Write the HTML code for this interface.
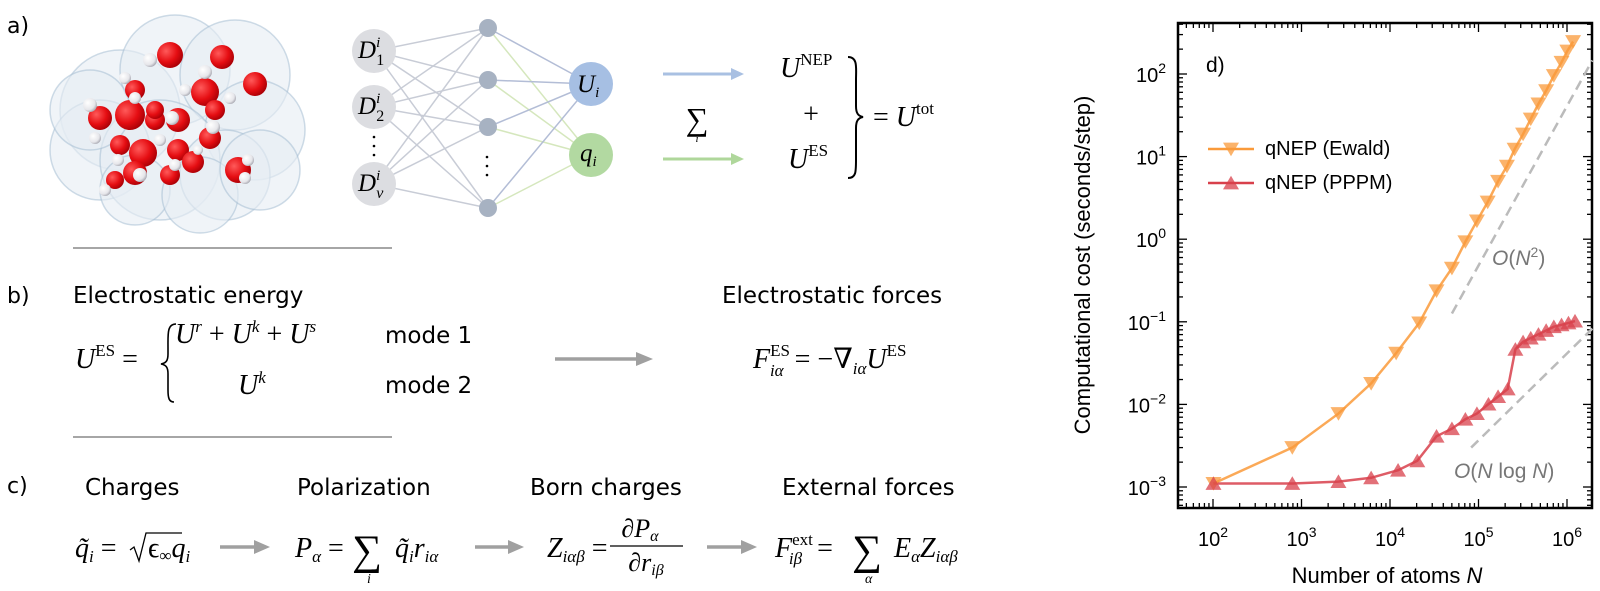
<!DOCTYPE html>
<html><head><meta charset="utf-8"><style>
html,body{margin:0;padding:0;background:#fff;}
svg{display:block;}
.s{font-family:"DejaVu Sans","Liberation Sans",sans-serif;}
.m{font-family:"Liberation Serif","DejaVu Serif",serif;}
.a{font-family:"Liberation Sans",sans-serif;}
</style></head><body>
<svg id="sv" width="1600" height="591" viewBox="0 0 1600 591" xmlns="http://www.w3.org/2000/svg">
<defs>
<radialGradient id="rg" cx="0.35" cy="0.35" r="0.7"><stop offset="0" stop-color="#ff5a5a"/><stop offset="0.6" stop-color="#e50d12"/><stop offset="1" stop-color="#a80006"/></radialGradient>
<radialGradient id="wg" cx="0.35" cy="0.35" r="0.7"><stop offset="0" stop-color="#ffffff"/><stop offset="0.7" stop-color="#e6e6ea"/><stop offset="1" stop-color="#a9a9b2"/></radialGradient>
</defs>
<text x="7" y="33" class="s" font-size="22">a)</text>
<g id="mol"></g>
<g id="nn"></g>
<line x1="663" y1="74" x2="733" y2="74" stroke="#a9c0e2" stroke-width="3"/>
<polygon points="731,68 744,74 731,80" fill="#a9c0e2"/>
<line x1="663" y1="159" x2="733" y2="159" stroke="#afd79b" stroke-width="3"/>
<polygon points="731,153 744,159 731,165" fill="#afd79b"/>
<text x="697" y="130" class="m" font-size="32" text-anchor="middle">∑</text>
<text x="697" y="142" class="m" font-size="11" font-style="italic" text-anchor="middle">i</text>
<text x="780" y="77" class="m" font-size="28"><tspan font-style="italic">U</tspan><tspan dy="-12" font-size="17">NEP</tspan></text>
<text x="811" y="123" class="m" font-size="28" text-anchor="middle">+</text>
<text x="788" y="168" class="m" font-size="28"><tspan font-style="italic">U</tspan><tspan dy="-12" font-size="17">ES</tspan></text>
<path d="M848,57 C858,57 856,68 856,80 L856,106 C856,113 858,116 863,117 C858,118 856,121 856,128 L856,160 C856,172 856,178 848,178" fill="none" stroke="#000" stroke-width="2"/>
<text x="873" y="126" class="m" font-size="28">= <tspan font-style="italic">U</tspan><tspan dy="-12" font-size="17">tot</tspan></text>
<line x1="73" y1="248" x2="392" y2="248" stroke="#888" stroke-width="1.5"/>
<text x="7" y="303" class="s" font-size="22">b)</text>
<text x="73" y="303" class="s" font-size="23">Electrostatic energy</text>
<text x="75" y="368" class="m" font-size="28"><tspan font-style="italic">U</tspan><tspan dy="-12" font-size="17">ES</tspan><tspan dy="12"> =</tspan></text>
<path d="M176,324 C167,324 168,334 168,348 L168,354 C168,361 166,363 161,364 C166,365 168,367 168,374 L168,390 C168,398 169,402 174,402" fill="none" stroke="#000" stroke-width="1.6"/>
<text x="175" y="343" class="m" font-size="28"><tspan font-style="italic">U</tspan><tspan dy="-11" font-size="17" font-style="italic">r</tspan><tspan dy="11"> + </tspan><tspan font-style="italic">U</tspan><tspan dy="-11" font-size="17" font-style="italic">k</tspan><tspan dy="11"> + </tspan><tspan font-style="italic">U</tspan><tspan dy="-11" font-size="17" font-style="italic">s</tspan></text>
<text x="238" y="394" class="m" font-size="28"><tspan font-style="italic">U</tspan><tspan dy="-11" font-size="17" font-style="italic">k</tspan></text>
<text x="385" y="343" class="s" font-size="23">mode 1</text>
<text x="385" y="393" class="s" font-size="23">mode 2</text>
<line x1="555" y1="359" x2="640" y2="359" stroke="#a0a0a0" stroke-width="3.5"/>
<polygon points="636,352 653,359 636,366" fill="#a0a0a0"/>
<text x="722" y="303" class="s" font-size="23">Electrostatic forces</text>
<text x="753" y="368" class="m" font-size="28"><tspan font-style="italic">F</tspan><tspan dy="-12" font-size="17">ES</tspan><tspan dx="-20" dy="20" font-size="17" font-style="italic">iα</tspan><tspan dy="-8" dx="4"> = −∇</tspan><tspan dy="6" font-size="17" font-style="italic">iα</tspan><tspan dy="-6" font-style="italic">U</tspan><tspan dy="-12" font-size="17">ES</tspan></text>
<line x1="73" y1="437" x2="392" y2="437" stroke="#888" stroke-width="1.5"/>
<text x="7" y="493" class="s" font-size="22">c)</text>
<text x="85" y="495" class="s" font-size="23">Charges</text>
<text x="297" y="495" class="s" font-size="23">Polarization</text>
<text x="530" y="495" class="s" font-size="23">Born charges</text>
<text x="782" y="495" class="s" font-size="23">External forces</text>
<text x="75" y="557" class="m" font-size="28"><tspan font-style="italic">q̃</tspan><tspan dy="5" font-size="17" font-style="italic">i</tspan><tspan dy="-5"> =</tspan></text>
<path d="M130,550 L134,547 L139,561 L146,533 L182,533" fill="none" stroke="#000" stroke-width="1.3"/>
<text x="148" y="557" class="m" font-size="28">ϵ<tspan dy="4" font-size="17">∞</tspan><tspan dy="-4" font-style="italic">q</tspan><tspan dy="5" font-size="17" font-style="italic">i</tspan></text>
<line x1="220" y1="547" x2="258" y2="547" stroke="#a0a0a0" stroke-width="3.5"/><polygon points="254,540 270,547 254,554" fill="#a0a0a0"/>
<text x="295" y="557" class="m" font-size="28"><tspan font-style="italic">P</tspan><tspan dy="5" font-size="17" font-style="italic">α</tspan><tspan dy="-5"> = </tspan></text>
<text x="352" y="564" class="m" font-size="42">∑</text>
<text x="367" y="583" class="m" font-size="14" font-style="italic">i</text>
<text x="395" y="557" class="m" font-size="28"><tspan font-style="italic">q̃</tspan><tspan dy="5" font-size="17" font-style="italic">i</tspan><tspan dy="-5" font-style="italic">r</tspan><tspan dy="5" font-size="17" font-style="italic">iα</tspan></text>
<line x1="475" y1="547" x2="512" y2="547" stroke="#a0a0a0" stroke-width="3.5"/><polygon points="508,540 524,547 508,554" fill="#a0a0a0"/>
<text x="547" y="557" class="m" font-size="28"><tspan font-style="italic">Z</tspan><tspan dy="5" font-size="17" font-style="italic">iαβ</tspan><tspan dy="-5"> =</tspan></text>
<text x="640" y="537" class="m" font-size="26" text-anchor="middle">∂<tspan font-style="italic">P</tspan><tspan dy="4" font-size="16" font-style="italic">α</tspan></text>
<line x1="610" y1="546" x2="683" y2="546" stroke="#000" stroke-width="1.3"/>
<text x="646" y="571" class="m" font-size="26" text-anchor="middle">∂<tspan font-style="italic">r</tspan><tspan dy="4" font-size="16" font-style="italic">iβ</tspan></text>
<line x1="707" y1="547" x2="745" y2="547" stroke="#a0a0a0" stroke-width="3.5"/><polygon points="741,540 757,547 741,554" fill="#a0a0a0"/>
<text x="775" y="557" class="m" font-size="28"><tspan font-style="italic">F</tspan><tspan dy="-12" font-size="17">ext</tspan><tspan dx="-24" dy="19" font-size="17" font-style="italic">iβ</tspan><tspan dy="-7" dx="8"> =</tspan></text>
<text x="852" y="564" class="m" font-size="42">∑</text>
<text x="865" y="583" class="m" font-size="14" font-style="italic">α</text>
<text x="894" y="557" class="m" font-size="28"><tspan font-style="italic">E</tspan><tspan dy="5" font-size="17" font-style="italic">α</tspan><tspan dy="-5" font-style="italic">Z</tspan><tspan dy="5" font-size="17" font-style="italic">iαβ</tspan></text>
<g id="plot"></g>
<text x="1206" y="72" class="a" font-size="21">d)</text>
<text transform="translate(1090,265) rotate(-90)" class="a" font-size="22" text-anchor="middle">Computational cost (seconds/step)</text>
<text x="1387" y="583" class="a" font-size="22" text-anchor="middle">Number of atoms <tspan font-style="italic">N</tspan></text>
<text x="1265" y="155" class="a" font-size="20">qNEP (Ewald)</text>
<text x="1265" y="189" class="a" font-size="20">qNEP (PPPM)</text>
<text x="1492" y="265" class="a" font-size="21" fill="#777"><tspan font-style="italic">O</tspan>(<tspan font-style="italic">N</tspan><tspan dy="-8" font-size="14">2</tspan><tspan dy="8">)</tspan></text>
<text x="1454" y="478" class="a" font-size="21" fill="#777"><tspan font-style="italic">O</tspan>(<tspan font-style="italic">N</tspan> log <tspan font-style="italic">N</tspan>)</text>
</svg>
<script>
var NS="http://www.w3.org/2000/svg";
function el(p,t,a){var e=document.createElementNS(NS,t);for(var k in a)e.setAttribute(k,a[k]);p.appendChild(e);return e;}
var mol=document.getElementById('mol');
var blobs=[[120,110,60],[175,70,55],[235,75,55],[255,130,50],[100,150,50],[160,160,60],[225,175,45],[135,190,35],[200,195,38],[90,110,40],[260,170,40]];
blobs.forEach(function(b){el(mol,'circle',{cx:b[0],cy:b[1],r:b[2],fill:'#e6edf3','fill-opacity':0.6,stroke:'#9fb9cf','stroke-width':1.5,'stroke-opacity':0.5});});
var reds=[[170,55,13],[222,57,12],[255,84,12],[135,90,10],[205,92,14],[100,118,12],[130,115,15],[155,120,10],[178,120,12],[210,138,11],[120,145,10],[143,153,14],[178,150,11],[238,170,13],[135,173,12],[193,162,11],[155,110,9],[215,110,10],[115,180,9],[170,175,10]];
reds.forEach(function(b){el(mol,'circle',{cx:b[0],cy:b[1],r:b[2],fill:'url(#rg)'});});
var whites=[[150,60,7],[205,72,7],[185,90,6],[90,105,7],[135,98,6],[172,118,7],[213,127,7],[95,138,6],[140,175,7],[175,165,6],[248,160,6],[118,160,6],[230,98,6],[198,150,5],[160,140,6],[125,78,6],[105,190,6],[245,178,6]];
whites.forEach(function(b){el(mol,'circle',{cx:b[0],cy:b[1],r:b[2],fill:'url(#wg)'});});
var nn=document.getElementById('nn');
var D=[[374,51],[374,107],[374,184]],H=[[488,28],[488,80],[488,127],[488,208]],U=[591,84],Q=[591,155];
D.forEach(function(d){H.forEach(function(h){el(nn,'line',{x1:d[0],y1:d[1],x2:h[0],y2:h[1],stroke:'#c8ccd6','stroke-width':1.5});});});
H.forEach(function(h){el(nn,'line',{x1:h[0],y1:h[1],x2:U[0],y2:U[1],stroke:'#b3bdd6','stroke-width':1.5});el(nn,'line',{x1:h[0],y1:h[1],x2:Q[0],y2:Q[1],stroke:'#d5e7bd','stroke-width':1.5});});
D.forEach(function(d,i){el(nn,'circle',{cx:d[0],cy:d[1],r:22,fill:'#dcdde1'});});
H.forEach(function(h){el(nn,'circle',{cx:h[0],cy:h[1],r:9,fill:'#a7b2c2'});});
el(nn,'circle',{cx:U[0],cy:U[1],r:22,fill:'#a6bfe3'});
el(nn,'circle',{cx:Q[0],cy:Q[1],r:22,fill:'#b2d9a1'});
function mt(x,y,html,fs){var t=el(nn,'text',{x:x,y:y,'font-family':'Liberation Serif,serif','font-size':fs||25,'font-style':'italic'});t.innerHTML=html;return t;}
mt(358,58,'D<tspan dy="-11" font-size="15">i</tspan><tspan dx="-4" dy="18" font-size="16" font-style="normal">1</tspan>');
mt(358,114,'D<tspan dy="-11" font-size="15">i</tspan><tspan dx="-4" dy="18" font-size="16" font-style="normal">2</tspan>');
mt(358,191,'D<tspan dy="-11" font-size="15">i</tspan><tspan dx="-4" dy="18" font-size="16">ν</tspan>');
[137,146,155].forEach(function(y){el(nn,'circle',{cx:374,cy:y,r:1.3,fill:'#000'});});
[157,166,175].forEach(function(y){el(nn,'circle',{cx:487,cy:y,r:1.3,fill:'#000'});});
mt(577,92,'U<tspan dy="5" font-size="15">i</tspan>');
mt(580,161,'q<tspan dy="5" font-size="15">i</tspan>');
var P=document.getElementById('plot');
var L=1178,R=1592,T=23,B=508;
function X(lg){return 1213+88.5*(lg-2);}
function Y(lg){return 487-82.6*(lg+3);}
el(P,'rect',{x:L,y:T,width:R-L,height:B-T,fill:'none',stroke:'#000','stroke-width':2.5});
for(var d=1;d<=6;d++){for(var m=1;m<10;m++){var x=X(d+Math.log10(m));if(x<L||x>R)continue;var len=m==1?9:5;
el(P,'line',{x1:x,y1:B,x2:x,y2:B-len,stroke:'#000','stroke-width':1.3});el(P,'line',{x1:x,y1:T,x2:x,y2:T+len,stroke:'#000','stroke-width':1.3});}}
for(var d=-4;d<=2;d++){for(var m=1;m<10;m++){var y=Y(d+Math.log10(m));if(y<T||y>B)continue;var len=m==1?9:5;
el(P,'line',{x1:L,y1:y,x2:L+len,y2:y,stroke:'#000','stroke-width':1.3});el(P,'line',{x1:R,y1:y,x2:R-len,y2:y,stroke:'#000','stroke-width':1.3});}}
for(var d=2;d<=6;d++){var t=el(P,'text',{x:X(d),y:546,'text-anchor':'middle','font-family':'Liberation Sans,sans-serif','font-size':20});t.innerHTML='10<tspan dy="-9" font-size="14">'+d+'</tspan>';}
for(var d=-3;d<=2;d++){var t=el(P,'text',{x:1166,y:Y(d)+8,'text-anchor':'end','font-family':'Liberation Sans,sans-serif','font-size':20});t.innerHTML='10<tspan dy="-9" font-size="14">'+(d<0?'−'+(-d):d)+'</tspan>';}
function cv(p){return [1000+p[0]/2.6,p[1]*0.3777];}
var ew=[[555,1280],[760,1185],[880,1095],[965,1015],[1030,935],[1090,855],[1135,770],[1175,710],[1210,640],[1240,585],[1268,535],[1295,480],[1318,440],[1338,395],[1360,355],[1380,315],[1400,275],[1420,240],[1440,200],[1460,165],[1475,135],[1490,110]].map(cv);
var pp=[[555,1280],[760,1280],[880,1275],[965,1265],[1035,1245],[1085,1220],[1135,1155],[1175,1135],[1210,1110],[1240,1095],[1270,1070],[1295,1050],[1320,1030],[1340,925],[1360,905],[1380,895],[1400,885],[1420,875],[1440,865],[1460,860],[1478,855],[1495,850]].map(cv);
var d1=cv([1175,830]),d2=cv([1540,160]),d3=cv([1225,1185]),d4=cv([1540,870]);
el(P,'line',{x1:d1[0],y1:d1[1],x2:d2[0],y2:d2[1],stroke:'#bbb','stroke-width':2.5,'stroke-dasharray':'10,6'});
el(P,'line',{x1:d3[0],y1:d3[1],x2:d4[0],y2:d4[1],stroke:'#bbb','stroke-width':2.5,'stroke-dasharray':'10,6'});
function pl(pts,c){el(P,'polyline',{points:pts.map(function(p){return p.join(',')}).join(' '),fill:'none',stroke:c,'stroke-width':2.5,'stroke-opacity':0.85});}
pl(ew,'#fa9a3a');pl(pp,'#d8404b');
function tri(p,c,down){var s=8;var pts=down?[[p[0]-s,p[1]-s*0.8],[p[0]+s,p[1]-s*0.8],[p[0],p[1]+s*0.9]]:[[p[0]-s,p[1]+s*0.8],[p[0]+s,p[1]+s*0.8],[p[0],p[1]-s*0.9]];
el(P,'polygon',{points:pts.map(function(q){return q.join(',')}).join(' '),fill:c,'fill-opacity':0.75});}
ew.forEach(function(p){tri(p,'#fa9a3a',true);});
pp.forEach(function(p){tri(p,'#d8404b',false);});
el(P,'line',{x1:1208,y1:149,x2:1254,y2:149,stroke:'#fa9a3a','stroke-width':2.5});tri([1231,149],'#fa9a3a',true);
el(P,'line',{x1:1208,y1:183,x2:1254,y2:183,stroke:'#d8404b','stroke-width':2.5});tri([1231,183],'#d8404b',false);
</script>
</body></html>
